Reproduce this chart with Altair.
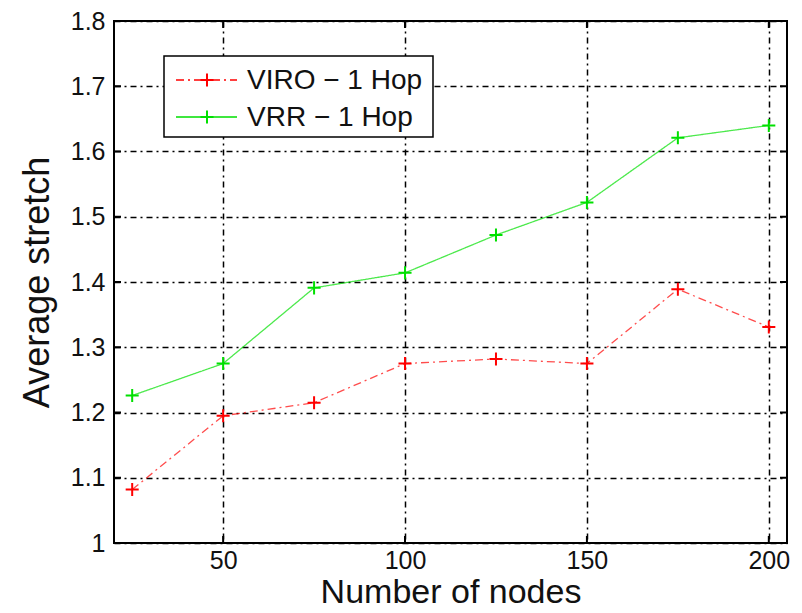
import altair as alt
import pandas as pd

# ---- data ----
nodes = [25, 50, 75, 100, 125, 150, 175, 200]
viro = [1.082, 1.195, 1.215, 1.275, 1.282, 1.275, 1.389, 1.331]
vrr = [1.226, 1.275, 1.391, 1.414, 1.472, 1.522, 1.621, 1.640]
series_names = ["VIRO \u2212 1 Hop", "VRR \u2212 1 Hop"]
series_colors = ["#ff0000", "#00e000"]
x_ticks = [50, 100, 150, 200]
y_ticks = [1.0, 1.1, 1.2, 1.3, 1.4, 1.5, 1.6, 1.7, 1.8]

W, H = 673, 522
FONT = "Liberation Sans"
PLUS = "M-1,0L1,0M0,-1L0,1"
GRID_DASH = [6, 4, 2, 4]

rows = []
for name, vals in zip(series_names, [viro, vrr]):
    for n, v in zip(nodes, vals):
        rows.append({"nodes": n, "stretch": v, "series": name})
df = pd.DataFrame(rows)

xscale = alt.Scale(domain=[20, 205], nice=False, zero=False)
yscale = alt.Scale(domain=[1.0, 1.8], nice=False, zero=False)
color = alt.Color("series:N", scale=alt.Scale(domain=series_names, range=series_colors), legend=None)

x_axis = alt.Axis(values=x_ticks, grid=True, gridDash=GRID_DASH, gridColor="black",
                  gridWidth=1.5, gridOpacity=1, tickSize=0, domain=False,
                  labelFont=FONT, labelFontSize=25, labelColor="#111", labelPadding=5,
                  title="Number of nodes", titleFont=FONT, titleFontSize=34,
                  titleFontWeight="normal", titleColor="#111",
                  titleBaseline="alphabetic", titleY=59)
y_axis = alt.Axis(values=y_ticks, format=".1~f", grid=True, gridDash=GRID_DASH,
                  gridColor="black", gridWidth=1.5, gridOpacity=1, tickSize=0,
                  domain=False, labelFont=FONT, labelFontSize=25, labelColor="#111",
                  labelPadding=9, title="Average stretch", titleFont=FONT,
                  titleFontSize=36, titleFontWeight="normal", titleColor="#111",
                  titlePadding=14)


def X(field):
    return alt.X(field, scale=xscale, axis=x_axis)


def Y(field):
    return alt.Y(field, scale=yscale, axis=y_axis)


base = alt.Chart(df)
lines = base.mark_line(strokeWidth=1.3, opacity=0.7).encode(
    x=X("nodes:Q"), y=Y("stretch:Q"), color=color,
    strokeDash=alt.StrokeDash("series:N",
                              scale=alt.Scale(domain=series_names, range=[[8, 4, 2, 4], [1, 0]]),
                              legend=None),
)
points = base.mark_point(shape=PLUS, size=170, strokeWidth=2, filled=False, opacity=1).encode(
    x=X("nodes:Q"), y=Y("stretch:Q"), color=color,
)

# inward box ticks (MATLAB style)
ydf = pd.DataFrame({"v": y_ticks})
xdf = pd.DataFrame({"v": x_ticks})
tick_y_left = alt.Chart(ydf).mark_rule(color="black", strokeWidth=2).encode(
    y=Y("v:Q"), x=alt.value(0), x2=alt.value(7))
tick_y_right = alt.Chart(ydf).mark_rule(color="black", strokeWidth=2).encode(
    y=Y("v:Q"), x=alt.value(W - 7), x2=alt.value(W))
tick_x_bot = alt.Chart(xdf).mark_rule(color="black", strokeWidth=2).encode(
    x=X("v:Q"), y=alt.value(H), y2=alt.value(H - 7))
tick_x_top = alt.Chart(xdf).mark_rule(color="black", strokeWidth=2).encode(
    x=X("v:Q"), y=alt.value(0), y2=alt.value(7))

# legend box
one = pd.DataFrame({"a": [0]})
leg_box = alt.Chart(one).mark_rect(fill="white", stroke="black", strokeWidth=1.5).encode(
    x=alt.value(50), x2=alt.value(319), y=alt.value(35), y2=alt.value(116))
leg_layers = [leg_box]
leg_rows = [59, 96]
leg_dash = [[8, 4, 2, 4], [1, 0]]
for name, col, yy, dash in zip(series_names, series_colors, leg_rows, leg_dash):
    leg_layers.append(alt.Chart(one).mark_rule(color=col, strokeWidth=1.5, strokeDash=dash).encode(
        x=alt.value(62), x2=alt.value(123), y=alt.value(yy)))
    leg_layers.append(alt.Chart(one).mark_point(shape=PLUS, size=170, strokeWidth=2, filled=False,
                                                color=col, opacity=1).encode(
        x=alt.value(93), y=alt.value(yy)))
    leg_layers.append(alt.Chart(one).mark_text(align="left", baseline="middle", font=FONT,
                                               fontSize=28, color="#111").encode(
        x=alt.value(133), y=alt.value(yy + 1), text=alt.value(name)))

chart = alt.layer(
    lines, points, tick_y_left, tick_y_right, tick_x_bot, tick_x_top, *leg_layers
).properties(
    width=W, height=H,
    autosize=alt.AutoSizeParams(type="none"),
    padding={"left": 106, "top": 13, "right": 7, "bottom": 62},
).configure_view(stroke="black", strokeWidth=2)

chart.save("out.html", embed_options={"renderer": "svg", "actions": False})
